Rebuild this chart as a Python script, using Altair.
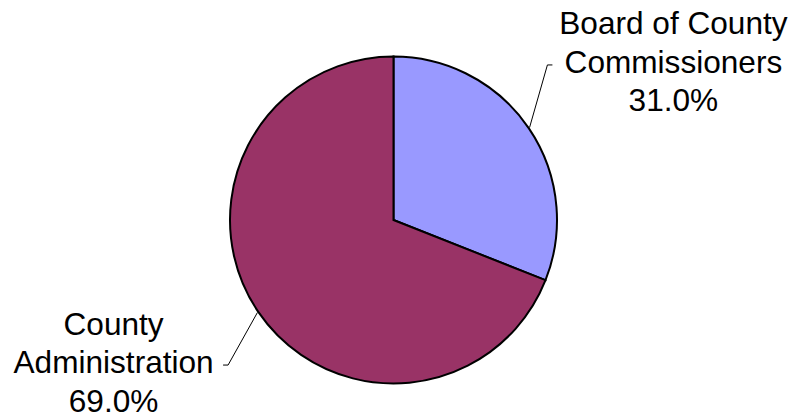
import math
import numpy as np
import pandas as pd
import altair as alt

# ---- data ----
categories = ["Board of County Commissioners", "County Administration"]
label_lines = [["Board of County", "Commissioners"], ["County", "Administration"]]
shares = [31.0, 69.0]

# ---- style ----
colors = ["#9999FF", "#993366"]
W, H = 798, 419
CX, CY, R = 393.5, 220.0, 163.5
LABEL_R = 317.6
LABEL_DTHETA = 0.1048
LABEL_DY = -6
TICK_DY = 1
HALF_W = [113, 101.5]
GAP, TICK = 8, 5
FONT = "Liberation Sans"
FS = 31.6
LH = 38.5

total = sum(shares)
vals = np.array(shares)
start = np.cumsum(vals) - vals
mid = (start + vals / 2) / total * 2 * math.pi

rows, lines = [], []
for i, (cat, ll, s) in enumerate(zip(categories, label_lines, shares)):
    la = mid[i] + LABEL_DTHETA
    lx = CX + LABEL_R * math.sin(la)
    ly = CY - LABEL_R * math.cos(la) + LABEL_DY   # centre of the middle line
    side = 1 if math.sin(la) > 0 else -1
    rows.append({"idx": i, "category": cat, "share": s,
                 "label": "\n".join(ll + [f"{s:.1f}%"]), "lx": lx, "ly": ly - LH})
    px = CX + (R + 1) * math.sin(mid[i])
    py = CY - (R + 1) * math.cos(mid[i])
    ex = lx - side * (HALF_W[i] + GAP + TICK)
    tx = lx - side * (HALF_W[i] + GAP)
    for k, (x, y) in enumerate([(px, py), (ex, ly + TICK_DY), (tx, ly + TICK_DY)]):
        lines.append({"category": cat, "k": k, "x": x, "y": y})

df = pd.DataFrame(rows)
ldf = pd.DataFrame(lines)

pie = alt.Chart(df).mark_arc(outerRadius=R, stroke="black", strokeWidth=2).encode(
    theta=alt.Theta("share:Q", stack=True),
    order=alt.Order("idx:Q"),
    color=alt.Color("category:N", scale=alt.Scale(domain=categories, range=colors), legend=None),
    x=alt.value(CX),
    y=alt.value(CY),
)

leaders = alt.Chart(ldf).mark_line(color="black", strokeWidth=1).encode(
    x=alt.X("x:Q", scale=None, axis=None),
    y=alt.Y("y:Q", scale=None, axis=None),
    detail="category:N",
    order="k:Q",
)

labels = alt.Chart(df).mark_text(
    font=FONT, fontSize=FS, lineHeight=LH, align="center", baseline="middle",
    lineBreak="\n", color="black",
).encode(
    x=alt.X("lx:Q", scale=None, axis=None),
    y=alt.Y("ly:Q", scale=None, axis=None),
    text="label:N",
)

chart = alt.layer(pie, leaders, labels).properties(
    width=W, height=H, autosize="none", padding=0
).configure_view(stroke=None).resolve_scale(color="independent")

chart.save("out.html", embed_options={"renderer": "svg", "actions": False})
